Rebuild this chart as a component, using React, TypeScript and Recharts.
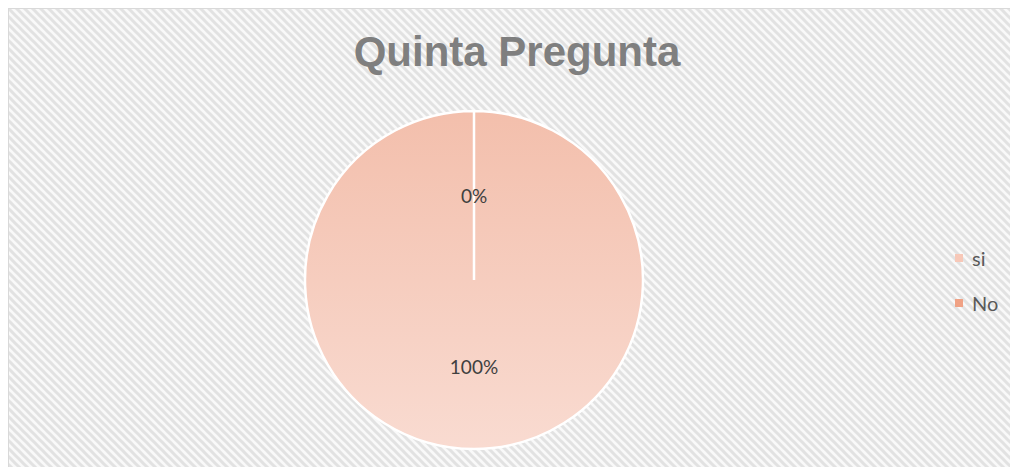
import { PieChart, Pie, Cell, Legend } from "recharts"

const categories = ["si", "No"]
const values = [100, 0]
const title = "Quinta Pregunta"

const sliceFills = ["url(#siGradient)", "#F0A285"]
const legendFills = ["#F7C8B8", "#F0A285"]

const chartData = categories.map((name, i) => ({ name, value: values[i] }))

const RADIAN = Math.PI / 180

function renderLabel(props: any) {
  const { cx, cy, midAngle, outerRadius, percent } = props
  const r = outerRadius * 0.505
  const x = cx + r * Math.cos(-midAngle * RADIAN)
  const y = cy + r * Math.sin(-midAngle * RADIAN) + 1
  return (
    <text
      x={x}
      y={y}
      textAnchor="middle"
      dominantBaseline="central"
      fill="#404040"
      fontFamily="Lato, 'Noto Sans', sans-serif"
      fontSize={19}
    >
      {`${Math.round((percent ?? 0) * 100)}%`}
    </text>
  )
}

function LegendContent() {
  return (
    <div style={{ fontFamily: "Lato, 'Noto Sans', sans-serif", fontSize: 20, color: "#595959" }}>
      {categories.map((c, i) => (
        <div key={c} style={{ height: 45, display: "flex", alignItems: "center" }}>
          <span
            style={{
              display: "inline-block",
              width: 8,
              height: 8,
              background: legendFills[i],
              marginRight: 9,
            }}
          />
          <span>{c}</span>
        </div>
      ))}
    </div>
  )
}

export default function App() {
  // frame runs off the right and bottom edges of the picture, like the reference
  const W = 1011
  const H = 468
  return (
    <div
      style={{
        position: "relative",
        width: W,
        height: H,
        marginLeft: -1,
        marginTop: -1,
        marginBottom: -8,
        borderLeft: "2px solid #D9D9D9",
        borderTop: "2px solid #D9D9D9",
        boxSizing: "border-box",
        background: "#FAFAFA",
        overflow: "hidden",
      }}
    >
      <svg width={W} height={H} style={{ position: "absolute", left: 0, top: 0 }}>
        <defs>
          <pattern id="hatch" patternUnits="userSpaceOnUse" width={8} height={8}>
            <rect width={8} height={8} fill="#F9F9F9" />
            <path d="M-2,-2 L10,10 M-2,6 L2,10 M6,-2 L10,2" stroke="#E2E2E2" strokeWidth={3} />
          </pattern>
        </defs>
        <rect width={W} height={H} fill="url(#hatch)" />
        <text
          x={508}
          y={57}
          textAnchor="middle"
          fill="#7F7F7F"
          fontFamily="'Liberation Sans', Arial, sans-serif"
          fontWeight="bold"
          fontSize={42}
        >
          {title}
        </text>
      </svg>
      <PieChart width={W - 2} height={H - 2} style={{ position: "absolute", left: 0, top: 0 }}>
        <defs>
          <linearGradient id="siGradient" x1="0" y1="0" x2="0" y2="1">
            <stop offset="0%" stopColor="#F3BFAC" />
            <stop offset="100%" stopColor="#F9DBD1" />
          </linearGradient>
        </defs>
        <Pie
          data={chartData}
          dataKey="value"
          nameKey="name"
          cx={460}
          cy={266}
          outerRadius={169}
          startAngle={90}
          endAngle={-270}
          stroke="#FFFFFF"
          strokeWidth={2.5}
          label={renderLabel}
          labelLine={false}
          isAnimationActive={false}
        >
          {chartData.map((d, i) => (
            <Cell key={d.name} fill={sliceFills[i]} />
          ))}
        </Pie>
        <Legend
          content={<LegendContent />}
          wrapperStyle={{ position: "absolute", left: 946, top: 226, width: 60 }}
        />
      </PieChart>
    </div>
  )
}
